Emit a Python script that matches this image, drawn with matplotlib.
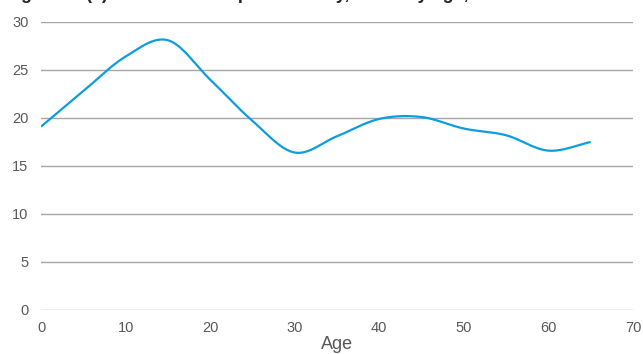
import numpy as np
import matplotlib
matplotlib.use("Agg")
import matplotlib.pyplot as plt

ages = [0, 5, 10, 15, 20, 25, 30, 35, 40, 45, 50, 55, 60, 65]
values = [19.1, 22.8, 26.4, 28.1, 24.0, 19.7, 16.4, 18.1, 19.9, 20.1, 18.9, 18.2, 16.6, 17.5]
y_ticks = [0, 5, 10, 15, 20, 25, 30]
x_ticks = [0, 10, 20, 30, 40, 50, 60, 70]
title = "Figure 4: (a) Hours worked per weekday, mean by age, %"

LINE_COLOR = "#0a9ee0"
TEXT_COLOR = "#595959"
GRID_COLOR = "#a6a6a6"


def smooth(x, y, steps=30):
    # Catmull-Rom spline through the points, like a spreadsheet "smoothed line"
    x = np.asarray(x, float)
    y = np.asarray(y, float)
    px = np.concatenate([[2 * x[0] - x[1]], x, [2 * x[-1] - x[-2]]])
    py = np.concatenate([[2 * y[0] - y[1]], y, [2 * y[-1] - y[-2]]])
    xs, ys = [], []
    t = np.linspace(0, 1, steps, endpoint=False)
    for i in range(1, len(px) - 2):
        for p, out in ((px, xs), (py, ys)):
            p0, p1, p2, p3 = p[i - 1], p[i], p[i + 1], p[i + 2]
            out.append(0.5 * ((2 * p1) + (-p0 + p2) * t
                              + (2 * p0 - 5 * p1 + 4 * p2 - p3) * t ** 2
                              + (-p0 + 3 * p1 - 3 * p2 + p3) * t ** 3))
    xs.append([x[-1]])
    ys.append([y[-1]])
    return np.concatenate(xs), np.concatenate(ys)


plt.rcParams["font.family"] = ["Liberation Sans", "DejaVu Sans"]

fig = plt.figure(figsize=(6.43, 3.54), dpi=100)
ax = fig.add_axes([0.0638, 0.1243, 0.9206, 0.8136])

sx, sy = smooth(ages, values)
ax.plot(sx, sy, color=LINE_COLOR, lw=1.6, solid_capstyle="butt")

ax.set_xlim(0, 70)
ax.set_ylim(0, 30)
ax.set_xticks(x_ticks)
ax.set_yticks(y_ticks)
ax.yaxis.grid(True, color=GRID_COLOR, lw=1.0)
ax.set_axisbelow(True)
for s in ax.spines.values():
    s.set_visible(False)
ax.tick_params(length=0, labelsize=10.5, labelcolor=TEXT_COLOR)
ax.tick_params(axis="x", pad=8)
ax.tick_params(axis="y", pad=9)
ax.set_xlabel("Age", fontsize=13, color=TEXT_COLOR, labelpad=1)

# title sits above the top edge, only its lower part shows
fig.text(0.008, 1 + 1 / 354, title, fontsize=13, fontweight="bold",
         color="#262626", va="baseline", ha="left")

fig.savefig("out.png", dpi=100)
